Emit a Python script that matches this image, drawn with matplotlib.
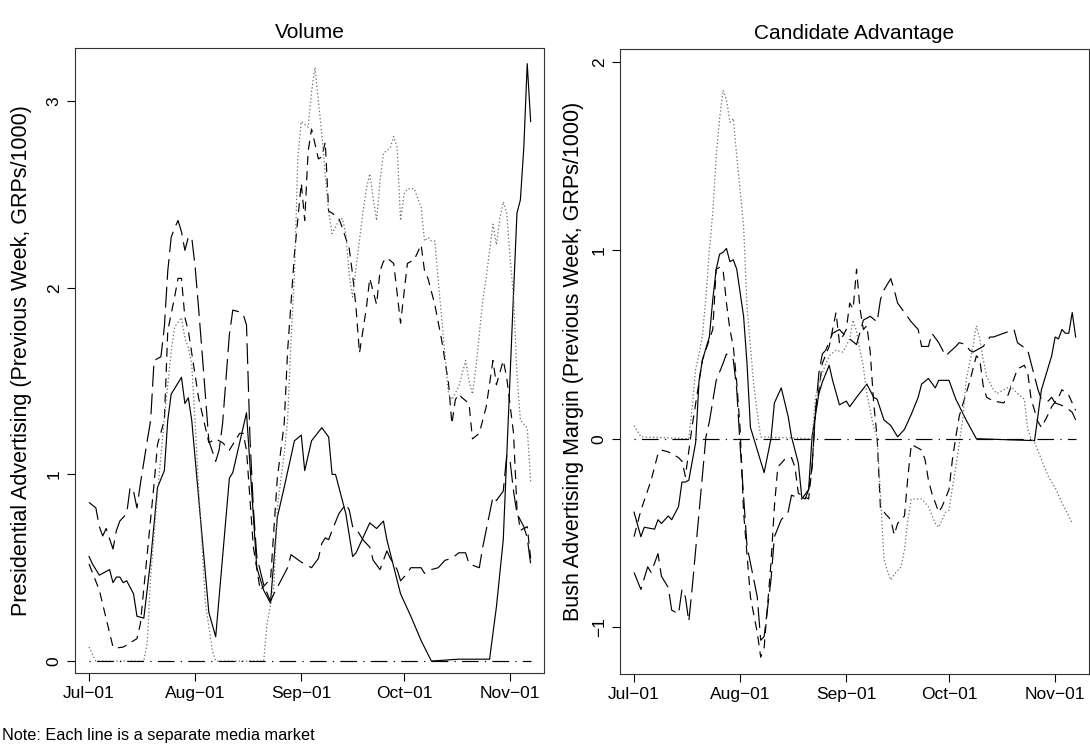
"""Two-panel advertising chart: volume and candidate advantage per media market."""
import matplotlib
matplotlib.use("Agg")
import matplotlib.pyplot as plt
import numpy as np
import pandas as pd

plt.rcParams["font.family"] = ["Liberation Sans", "DejaVu Sans"]
plt.rcParams["lines.scale_dashes"] = False

START = pd.Timestamp("2004-07-01")
tick_dates = ["2004-07-01", "2004-08-01", "2004-09-01", "2004-10-01", "2004-11-01"]
tick_labels = ["Jul\u221201", "Aug\u221201", "Sep\u221201", "Oct\u221201", "Nov\u221201"]

# ---- Volume panel (days since Jul 1, GRPs/1000) ----
vol_solid_days = [0, 1, 3, 6, 7, 8, 9, 10, 11, 13, 14, 16, 18, 20, 22, 23, 24, 27, 28, 29, 30, 35, 37, 41, 42,
                  46, 49, 51, 53, 55, 57, 60, 62, 63, 65, 68, 70, 71, 72, 75, 77, 78, 80, 82, 84, 86, 87, 91,
                  94, 97, 100, 108, 117, 118, 119, 121, 122, 124, 125, 126, 127, 128, 129]
vol_solid_vals = [0.56, 0.52, 0.46, 0.49, 0.42, 0.45, 0.45, 0.42, 0.43, 0.36, 0.24, 0.23, 0.54, 0.93, 1.02,
                  1.29, 1.43, 1.52, 1.38, 1.41, 1.29, 0.26, 0.13, 0.98, 1.01, 1.33, 0.50, 0.38, 0.31, 0.77,
                  0.93, 1.18, 1.21, 1.02, 1.18, 1.25, 1.20, 1.00, 1.00, 0.79, 0.56, 0.58, 0.66, 0.74, 0.71,
                  0.75, 0.65, 0.36, 0.24, 0.11, 0.00, 0.01, 0.01, 0.15, 0.29, 0.65, 1.09, 1.97, 2.40, 2.47,
                  2.75, 3.20, 2.89]

vol_dash_days = [0, 3, 7, 8, 10, 14, 15, 19, 20, 22, 23, 25, 26, 27, 28, 29, 30, 32, 35, 37, 39, 41, 44, 45,
                 46, 48, 50, 52, 53, 55, 57, 58, 60, 62, 63, 64, 65, 67, 68, 69, 70, 71, 73, 74, 76, 77, 78,
                 79, 81, 82, 84, 85, 86, 87, 89, 91, 93, 95, 97, 98, 99, 100, 101, 103, 105, 106, 107, 108,
                 109, 111, 112, 114, 116, 118, 119, 121, 122, 124, 125, 126, 128, 129]
vol_dash_vals = [0.52, 0.38, 0.075, 0.07, 0.075, 0.12, 0.20, 0.95, 1.16, 1.29, 1.77, 1.95, 2.05, 2.05, 1.84,
                 1.77, 1.65, 1.41, 1.17, 1.19, 1.17, 1.13, 1.22, 1.22, 1.13, 0.61, 0.38, 0.42, 0.43, 0.98,
                 1.27, 1.66, 2.18, 2.56, 2.36, 2.73, 2.85, 2.69, 2.70, 2.78, 2.41, 2.40, 2.37, 2.32, 2.21,
                 2.07, 1.89, 1.65, 1.89, 2.05, 1.91, 2.09, 2.14, 2.16, 2.13, 1.81, 2.13, 2.15, 2.23, 2.09,
                 2.05, 1.98, 1.91, 1.72, 1.49, 1.27, 1.40, 1.43, 1.41, 1.38, 1.19, 1.22, 1.36, 1.61, 1.48,
                 1.61, 1.52, 1.22, 0.82, 0.70, 0.72, 0.55]

vol_dot_days = [0, 2, 16, 17, 18, 20, 22, 24, 25, 27, 28, 29, 30, 31, 32, 34, 36, 37, 51, 52, 54, 55, 57, 58,
                59, 60, 61, 62, 64, 65, 66, 67, 68, 69, 70, 71, 73, 74, 75, 76, 77, 78, 80, 81, 82, 83, 84,
                85, 86, 88, 89, 90, 91, 92, 93, 95, 96, 97, 98, 99, 100, 101, 102, 103, 105, 106, 108, 109,
                110, 111, 112, 113, 115, 116, 117, 118, 119, 120, 121, 122, 123, 124, 125, 126, 128, 129]
vol_dot_vals = [0.075, 0.0, 0.0, 0.10, 0.45, 0.90, 1.30, 1.66, 1.79, 1.84, 1.73, 1.68, 1.59, 1.27, 0.93, 0.31,
                0.06, 0.0, 0.0, 0.20, 0.40, 0.82, 1.11, 1.29, 1.72, 2.07, 2.70, 2.89, 2.86, 3.05, 3.18, 3.00,
                2.82, 2.61, 2.40, 2.29, 2.36, 2.37, 2.29, 2.07, 1.95, 2.11, 2.40, 2.53, 2.61, 2.48, 2.36,
                2.57, 2.72, 2.75, 2.81, 2.75, 2.36, 2.50, 2.53, 2.53, 2.48, 2.43, 2.25, 2.27, 2.25, 2.25,
                2.04, 1.84, 1.43, 1.40, 1.47, 1.54, 1.61, 1.50, 1.43, 1.57, 1.93, 2.05, 2.20, 2.34, 2.23,
                2.37, 2.46, 2.40, 2.16, 1.95, 1.54, 1.29, 1.25, 0.96]

vol_long_days = [0, 2, 3, 4, 5, 7, 8, 9, 11, 12, 13, 14, 15, 17, 18, 19, 21, 22, 23, 24, 25, 26, 27, 28, 29,
                 30, 31, 32, 33, 35, 37, 38, 39, 41, 42, 44, 45, 46, 47, 48, 49, 51, 53, 54, 58, 59, 62, 65,
                 67, 68, 69, 70, 71, 73, 75, 76, 77, 78, 80, 82, 83, 85, 87, 88, 90, 91, 93, 94, 97, 98, 100,
                 102, 104, 106, 108, 110, 111, 114, 115, 117, 118, 119, 121, 122, 123, 124, 125, 127, 128, 129]
vol_long_vals = [0.85, 0.82, 0.72, 0.67, 0.71, 0.60, 0.70, 0.75, 0.79, 0.93, 0.91, 0.82, 0.95, 1.18, 1.29,
                 1.61, 1.63, 1.79, 2.09, 2.27, 2.32, 2.36, 2.30, 2.20, 2.27, 2.27, 2.11, 1.89, 1.66, 1.18,
                 1.07, 1.13, 1.27, 1.75, 1.88, 1.87, 1.86, 1.80, 1.20, 0.82, 0.56, 0.41, 0.32, 0.36, 0.50,
                 0.57, 0.53, 0.50, 0.55, 0.63, 0.66, 0.65, 0.70, 0.79, 0.84, 0.81, 0.72, 0.71, 0.65, 0.61,
                 0.54, 0.49, 0.59, 0.55, 0.49, 0.43, 0.47, 0.50, 0.50, 0.47, 0.49, 0.50, 0.54, 0.55, 0.58,
                 0.58, 0.52, 0.50, 0.61, 0.79, 0.88, 0.86, 0.91, 1.10, 1.07, 0.91, 0.79, 0.72, 0.66, 0.52]

# ---- Candidate advantage panel (Bush margin) ----
adv_solid_days = [0, 2, 3, 6, 7, 8, 10, 11, 13, 14, 15, 16, 18, 19, 20, 22, 23, 24, 25, 26, 27, 28, 29, 30,
                  32, 33, 34, 36, 38, 40, 41, 43, 45, 46, 48, 49, 50, 51, 52, 54, 55, 57, 58, 60, 62, 63, 65,
                  68, 70, 71, 73, 75, 77, 79, 81, 83, 84, 86, 88, 89, 92, 94, 97, 100, 117, 119, 122, 123,
                  124, 125, 126, 127, 128, 129]
adv_solid_vals = [-0.39, -0.52, -0.47, -0.48, -0.43, -0.45, -0.41, -0.43, -0.36, -0.23, -0.23, -0.22, -0.02,
                  0.31, 0.42, 0.54, 0.74, 0.90, 0.98, 0.99, 1.01, 0.94, 0.95, 0.90, 0.65, 0.40, 0.06, -0.06,
                  -0.18, 0.0, 0.19, 0.27, 0.12, 0.01, -0.13, -0.31, -0.32, -0.27, 0.01, 0.24, 0.30, 0.39,
                  0.31, 0.18, 0.20, 0.17, 0.22, 0.29, 0.22, 0.21, 0.10, 0.07, 0.01, 0.05, 0.13, 0.22, 0.29,
                  0.32, 0.27, 0.31, 0.31, 0.21, 0.10, 0.0, -0.01, 0.26, 0.44, 0.54, 0.53, 0.58, 0.56, 0.56,
                  0.67, 0.54]

adv_dash_days = [0, 2, 5, 7, 8, 10, 13, 14, 15, 17, 20, 23, 24, 25, 26, 27, 28, 29, 30, 31, 32, 34, 36, 37,
                 38, 40, 41, 42, 44, 46, 47, 48, 51, 52, 53, 54, 55, 57, 58, 59, 60, 62, 63, 64, 65, 66, 67,
                 68, 69, 70, 71, 72, 73, 75, 76, 77, 79, 80, 81, 82, 84, 85, 86, 87, 89, 90, 92, 93, 94, 95,
                 98, 100, 101, 102, 103, 105, 108, 109, 111, 112, 114, 115, 116, 118, 119, 121, 122, 124,
                 125, 127, 129]
adv_dash_vals = [-0.52, -0.38, -0.22, -0.08, -0.06, -0.07, -0.10, -0.12, -0.20, 0.07, 0.42, 0.58, 0.90,
                 0.91, 0.90, 0.72, 0.58, 0.49, 0.30, 0.05, -0.39, -0.84, -1.03, -1.16, -1.11, -0.66, -0.36,
                 -0.15, -0.11, -0.10, -0.15, -0.29, -0.32, -0.15, 0.15, 0.26, 0.40, 0.49, 0.58, 0.67, 0.51,
                 0.58, 0.72, 0.69, 0.90, 0.69, 0.58, 0.60, 0.46, 0.19, 0.01, -0.38, -0.39, -0.43, -0.51,
                 -0.45, -0.41, -0.20, -0.03, -0.04, -0.06, -0.11, -0.22, -0.29, -0.39, -0.36, -0.27, -0.11,
                 0.01, 0.12, 0.30, 0.44, 0.42, 0.28, 0.22, 0.20, 0.19, 0.22, 0.32, 0.37, 0.39, 0.35, 0.21,
                 0.09, 0.06, 0.13, 0.17, 0.22, 0.26, 0.23, 0.15]

adv_dot_days = [0, 2, 16, 17, 18, 19, 20, 21, 22, 23, 24, 25, 26, 27, 28, 29, 30, 32, 33, 35, 36, 37, 52, 53,
                55, 57, 59, 61, 63, 64, 65, 66, 67, 68, 70, 71, 72, 73, 74, 75, 76, 78, 79, 80, 81, 84, 86,
                88, 89, 91, 92, 93, 94, 96, 97, 99, 100, 101, 102, 103, 105, 106, 108, 110, 112, 114, 115,
                116, 117, 119, 121, 123, 125, 127, 128]
adv_dot_vals = [0.07, 0.01, 0.0, 0.17, 0.37, 0.45, 0.55, 0.75, 1.00, 1.20, 1.50, 1.70, 1.85, 1.80, 1.68, 1.70,
                1.50, 1.13, 0.70, 0.28, 0.14, 0.01, 0.0, 0.22, 0.35, 0.44, 0.47, 0.46, 0.53, 0.63, 0.57, 0.47,
                0.38, 0.24, 0.06, 0.01, -0.30, -0.64, -0.70, -0.75, -0.72, -0.68, -0.59, -0.43, -0.32, -0.32,
                -0.36, -0.45, -0.47, -0.39, -0.38, -0.26, -0.15, 0.10, 0.31, 0.49, 0.60, 0.53, 0.42, 0.33,
                0.26, 0.24, 0.26, 0.28, 0.24, 0.21, 0.05, 0.0, -0.02, -0.11, -0.20, -0.26, -0.34, -0.41,
                -0.45]

adv_long_days = [0, 2, 4, 5, 7, 8, 10, 11, 13, 14, 15, 16, 17, 19, 21, 22, 24, 26, 27, 29, 30, 31, 33, 36, 37,
                 38, 40, 41, 43, 45, 46, 49, 51, 52, 53, 54, 55, 56, 58, 60, 61, 63, 65, 67, 69, 71, 72, 73,
                 75, 76, 77, 81, 83, 84, 86, 87, 89, 91, 94, 95, 97, 98, 99, 100, 102, 104, 105, 108, 111,
                 112, 115, 116, 118, 119, 121, 122, 123, 126, 128, 129]
adv_long_vals = [-0.71, -0.80, -0.68, -0.71, -0.61, -0.73, -0.79, -0.91, -0.93, -0.80, -0.84, -0.97, -0.79,
                 -0.39, 0.01, 0.09, 0.31, 0.40, 0.45, 0.42, 0.26, -0.04, -0.57, -0.84, -1.07, -1.05, -0.75,
                 -0.52, -0.43, -0.39, -0.30, -0.32, -0.27, -0.15, 0.14, 0.35, 0.45, 0.47, 0.56, 0.58, 0.56,
                 0.53, 0.50, 0.63, 0.65, 0.62, 0.74, 0.79, 0.85, 0.79, 0.72, 0.62, 0.58, 0.49, 0.49, 0.56,
                 0.51, 0.44, 0.49, 0.51, 0.50, 0.47, 0.46, 0.47, 0.49, 0.54, 0.54, 0.56, 0.58, 0.51, 0.47,
                 0.40, 0.26, 0.21, 0.20, 0.22, 0.19, 0.17, 0.14, 0.10]

# the fifth market has no advertising at all: flat zero in both panels
flat_days = [0, 129]
flat_vals = [0.0, 0.0]

# R-like line types (dash lengths in points)
STYLES = {
    "solid": dict(color="black", linestyle="-", lw=0.85),
    "dash": dict(color="black", linestyle=(0, (6.5, 4.5)), lw=0.85),
    "dot": dict(color="#6a6a6a", linestyle=(0, (0.9, 1.7)), lw=0.9),
    "dotdash": dict(color="black", linestyle=(0, (0.9, 4.5, 12, 4.5)), lw=0.85),
    "long": dict(color="black", linestyle=(0, (15, 5)), lw=0.85),
}


def to_dates(days):
    return START + pd.to_timedelta(np.asarray(days, dtype=float), unit="D")


def style_axes(ax, yticks, ylim):
    ax.set_xlim(START - pd.Timedelta(days=4.1), START + pd.Timedelta(days=132.9))
    ax.set_ylim(*ylim)
    ax.set_xticks(pd.to_datetime(tick_dates))
    ax.set_xticklabels(tick_labels)
    ax.set_yticks(yticks)
    ax.set_yticklabels([str(t).replace("-", "\u2212") for t in yticks], rotation=90, va="center")
    ax.tick_params(direction="out", length=5.5, width=0.8, labelsize=12.5, pad=4, colors="black")
    for sp in ax.spines.values():
        sp.set_linewidth(0.8)
        sp.set_color("#333333")


fig = plt.figure(figsize=(10.9, 7.46), dpi=100)
W, H = 1090, 746
ax1 = fig.add_axes([75 / W, 1 - 673 / H, 469 / W, 625 / H])
ax2 = fig.add_axes([620 / W, 1 - 674 / H, 469 / W, 625 / H])

for ax, series in [
    (ax1, [(vol_solid_days, vol_solid_vals, "solid"), (vol_dash_days, vol_dash_vals, "dash"),
           (vol_dot_days, vol_dot_vals, "dot"), (flat_days, flat_vals, "dotdash"),
           (vol_long_days, vol_long_vals, "long")]),
    (ax2, [(adv_solid_days, adv_solid_vals, "solid"), (adv_dash_days, adv_dash_vals, "dash"),
           (adv_dot_days, adv_dot_vals, "dot"), (flat_days, flat_vals, "dotdash"),
           (adv_long_days, adv_long_vals, "long")]),
]:
    for days, vals, kind in series:
        ax.plot(to_dates(days), vals, **STYLES[kind])

style_axes(ax1, [0, 1, 2, 3], (-0.064, 3.284))
style_axes(ax2, [-1, 0, 1, 2], (-1.249, 2.069))

ax1.set_title("Volume", fontsize=15, pad=7)
ax2.set_title("Candidate Advantage", fontsize=15, pad=7)
ax1.set_ylabel("Presidential Advertising (Previous Week, GRPs/1000)", fontsize=15.5)
ax2.set_ylabel("Bush Advertising Margin (Previous Week, GRPs/1000)", fontsize=15.5)
ax1.yaxis.set_label_coords(-0.092, 0.5)
ax2.yaxis.set_label_coords(-0.077, 0.5)

fig.text(2 / W, 1 - 740 / H, "Note: Each line is a separate media market", fontsize=11.7, va="baseline")

fig.savefig("out.png", dpi=100)
